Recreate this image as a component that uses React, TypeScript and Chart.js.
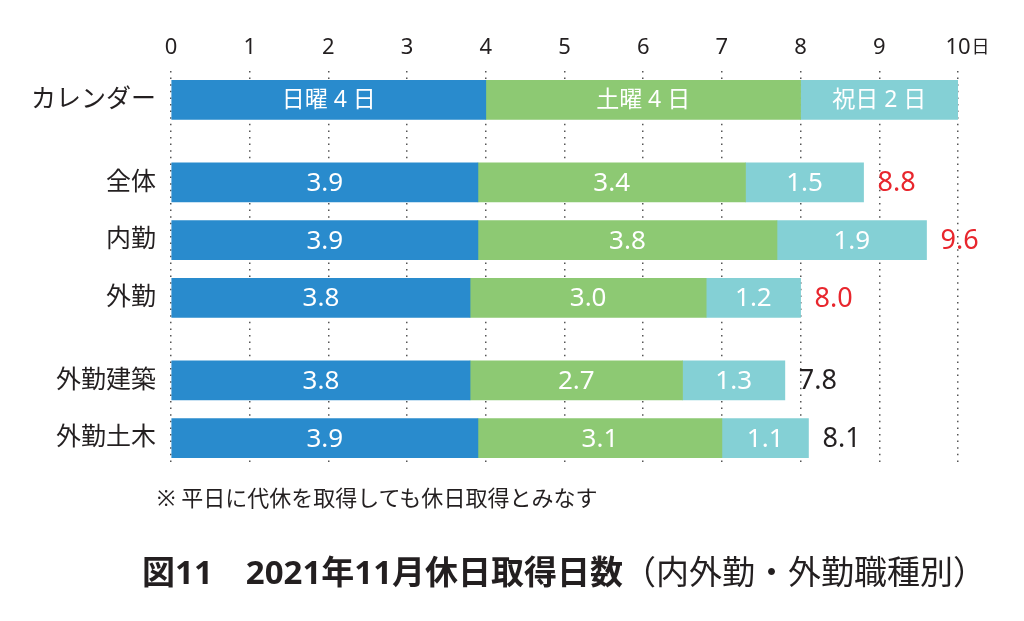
import React, { useEffect, useRef } from 'react';
import { Chart, registerables } from 'chart.js';

Chart.register(...registerables);

// ---- data ----
const categories = ['カレンダー', '全体', '内勤', '外勤', '外勤建築', '外勤土木'];
const groupSizes = [1, 3, 2];
const seriesNames = ['日曜', '土曜', '祝日'];
const sundayDays = [4, 3.9, 3.9, 3.8, 3.8, 3.9];
const saturdayDays = [4, 3.4, 3.8, 3.0, 2.7, 3.1];
const holidayDays = [2, 1.5, 1.9, 1.2, 1.3, 1.1];
const calendarSegmentLabels = ['日曜 4 日', '土曜 4 日', '祝日 2 日'];
const xTickLabels = ['0', '1', '2', '3', '4', '5', '6', '7', '8', '9', '10'];
const xUnit = '日';
const noteText = '※ 平日に代休を取得しても休日取得とみなす';
const titleMain = '図11　2021年11月休日取得日数';
const titleSub = '（内外勤・外勤職種別）';

// ---- style ----
const FONT = "'Noto Sans', 'Noto Sans CJK JP', sans-serif";
const TEXT = '#231f20';
const COLORS = ['#298bcd', '#8dc973', '#84d0d5'];
const RED = '#e8262d';
const GROUP_GAP = 0.43;

// row positions derived from grouping
const rowPositions: number[] = [];
const rowGroup: number[] = [];
(() => {
  let p = 0;
  groupSizes.forEach((n, g) => {
    for (let i = 0; i < n; i++) {
      rowPositions.push(p);
      rowGroup.push(g);
      p += 1;
    }
    p += GROUP_GAP;
  });
})();

const seriesValues = [sundayDays, saturdayDays, holidayDays];

const labelPlugin = {
  id: 'barLabels',
  afterDatasetsDraw(chart: any) {
    const ctx = chart.ctx;
    ctx.save();
    ctx.textBaseline = 'middle';
    chart.data.datasets.forEach((_ds: any, di: number) => {
      const meta = chart.getDatasetMeta(di);
      meta.data.forEach((el: any, i: number) => {
        const { x, base, y } = el.getProps(['x', 'base', 'y'], true);
        const text = i === 0 ? calendarSegmentLabels[di] : seriesValues[di][i].toFixed(1);
        ctx.font = i === 0 ? `23px ${FONT}` : `26px ${FONT}`;
        ctx.fillStyle = '#ffffff';
        ctx.textAlign = 'center';
        ctx.fillText(text, (x + base) / 2, y + 1);
      });
    });
    // totals
    const lastMeta = chart.getDatasetMeta(seriesValues.length - 1);
    lastMeta.data.forEach((el: any, i: number) => {
      if (rowGroup[i] === 0) return;
      const total = seriesValues.reduce((s, arr) => s + arr[i], 0);
      const { x, y } = el.getProps(['x', 'y'], true);
      ctx.font = `27px ${FONT}`;
      ctx.fillStyle = rowGroup[i] === 1 ? RED : TEXT;
      ctx.textAlign = 'left';
      ctx.fillText(total.toFixed(1), x + 14, y + 1);
    });
    // unit suffix after last tick
    const xs = chart.scales.x;
    ctx.font = `22px ${FONT}`;
    const lastLabel = xTickLabels[xTickLabels.length - 1];
    const w = ctx.measureText(lastLabel).width;
    const px = xs.getPixelForValue(xTickLabels.length - 1) + w / 2 + 1;
    ctx.font = `18px ${FONT}`;
    ctx.fillStyle = TEXT;
    ctx.textAlign = 'left';
    ctx.fillText(xUnit, px, 48);
    ctx.restore();
  },
};

export default function App() {
  const canvasRef = useRef<HTMLCanvasElement | null>(null);

  useEffect(() => {
    if (!canvasRef.current) return;
    const chart = new Chart(canvasRef.current, {
      type: 'bar',
      data: {
        datasets: seriesValues.map((vals, di) => ({
          label: seriesNames[di],
          data: vals.map((v, i) => ({ x: v, y: rowPositions[i] })),
          backgroundColor: COLORS[di],
          borderWidth: 0,
          stack: 'days',
          barThickness: 39,
        })),
      },
      options: {
        indexAxis: 'y',
        animation: false,
        responsive: false,
        maintainAspectRatio: false,
        layout: { padding: { top: 0, right: 66, bottom: 154, left: 0 } },
        plugins: { legend: { display: false }, tooltip: { enabled: false } },
        scales: {
          x: {
            type: 'linear',
            position: 'top',
            min: 0,
            max: xTickLabels.length - 1,
            stacked: true,
            ticks: {
              stepSize: 1,
              color: TEXT,
              font: { family: FONT, size: 22 },
              padding: 10,
              callback: (_v: any, i: number) => xTickLabels[i],
            },
            grid: { color: '#555555', lineWidth: 1.5, drawTicks: false },
            border: { display: false, dash: [1.5, 5.1] },
            afterFit: (s: any) => {
              s.height = 71;
            },
          },
          y: {
            type: 'linear',
            reverse: true,
            offset: false,
            min: -0.5,
            max: rowPositions[rowPositions.length - 1] + 0.5,
            afterBuildTicks: (s: any) => {
              s.ticks = rowPositions.map((v) => ({ value: v }));
            },
            ticks: {
              autoSkip: false,
              color: TEXT,
              font: { family: FONT, size: 25 },
              padding: 15,
              callback: (_v: any, i: number) => categories[i],
            },
            grid: { display: false, drawTicks: false, offset: false },
            border: { display: false },
            afterFit: (s: any) => {
              s.width = 171;
            },
          },
        },
      } as any,
      plugins: [labelPlugin],
    });
    return () => chart.destroy();
  }, []);

  return (
    <div style={{ position: 'fixed', left: 0, top: 0, width: 1024, height: 621, background: '#ffffff', fontFamily: FONT, color: TEXT }}>
      <canvas ref={canvasRef} width={1024} height={621} style={{ position: 'absolute', left: 0, top: 0, width: 1024, height: 621 }} />
      <div style={{ position: 'absolute', left: 157, top: 483, fontSize: 22, lineHeight: '28px', whiteSpace: 'nowrap' }}>{noteText}</div>
      <div style={{ position: 'absolute', left: 142, top: 552, fontSize: 33, lineHeight: '40px', whiteSpace: 'nowrap' }}>
        <span style={{ fontWeight: 700 }}>{titleMain}</span>
        <span style={{ fontWeight: 400 }}>{titleSub}</span>
      </div>
    </div>
  );
}
